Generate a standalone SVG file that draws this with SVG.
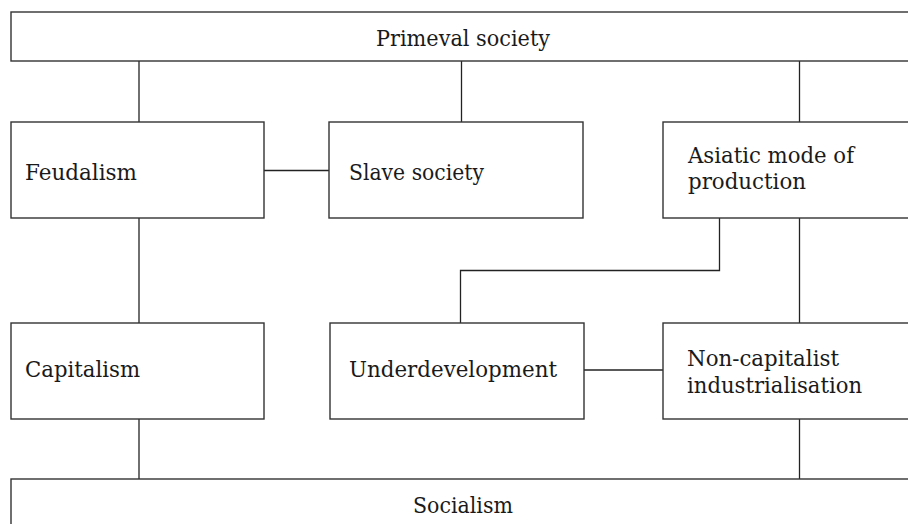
<svg xmlns="http://www.w3.org/2000/svg" width="908" height="524" viewBox="0 0 908 524">
<style>
.box{fill:#fff;stroke:#333;stroke-width:1.4}
.con{fill:none;stroke:#222;stroke-width:1.3}
text{font-family:"DejaVu Serif","Liberation Serif",serif;font-size:21.5px;fill:#1a1a1a}
</style>
<rect width="908" height="524" fill="#fff"/>
<g id="connectors">
<line class="con" x1="139" y1="61" x2="139" y2="122"/>
<line class="con" x1="461.5" y1="61" x2="461.5" y2="122"/>
<line class="con" x1="799.5" y1="61" x2="799.5" y2="122"/>
<line class="con" x1="264" y1="170.5" x2="329" y2="170.5"/>
<line class="con" x1="139" y1="218" x2="139" y2="323"/>
<polyline class="con" points="719.5,218 719.5,270.5 460.5,270.5 460.5,323"/>
<line class="con" x1="799.5" y1="218" x2="799.5" y2="323"/>
<line class="con" x1="584" y1="370" x2="663" y2="370"/>
<line class="con" x1="139" y1="419" x2="139" y2="479"/>
<line class="con" x1="799.5" y1="419" x2="799.5" y2="479"/>
</g>
<g id="primeval">
<rect class="box" x="11" y="12" width="920" height="49"/>
<text x="376" y="46" textLength="174" lengthAdjust="spacingAndGlyphs">Primeval society</text>
</g>
<g id="feudalism">
<rect class="box" x="11" y="122" width="253" height="96"/>
<text x="25" y="180" textLength="112" lengthAdjust="spacingAndGlyphs">Feudalism</text>
</g>
<g id="slave">
<rect class="box" x="329" y="122" width="254" height="96"/>
<text x="349" y="180" textLength="135" lengthAdjust="spacingAndGlyphs">Slave society</text>
</g>
<g id="asiatic">
<rect class="box" x="663" y="122" width="260" height="96"/>
<text x="688" y="163" textLength="166" lengthAdjust="spacingAndGlyphs">Asiatic mode of</text>
<text x="688" y="189" textLength="118" lengthAdjust="spacingAndGlyphs">production</text>
</g>
<g id="capitalism">
<rect class="box" x="11" y="323" width="253" height="96"/>
<text x="25" y="377" textLength="115" lengthAdjust="spacingAndGlyphs">Capitalism</text>
</g>
<g id="underdevelopment">
<rect class="box" x="330" y="323" width="254" height="96"/>
<text x="349" y="377" textLength="208" lengthAdjust="spacingAndGlyphs">Underdevelopment</text>
</g>
<g id="noncapitalist">
<rect class="box" x="663" y="323" width="260" height="96"/>
<text x="687" y="366" textLength="152" lengthAdjust="spacingAndGlyphs">Non-capitalist</text>
<text x="687" y="393" textLength="175" lengthAdjust="spacingAndGlyphs">industrialisation</text>
</g>
<g id="socialism">
<rect class="box" x="11" y="479" width="920" height="60"/>
<text x="413" y="513" textLength="100" lengthAdjust="spacingAndGlyphs">Socialism</text>
</g>
</svg>
